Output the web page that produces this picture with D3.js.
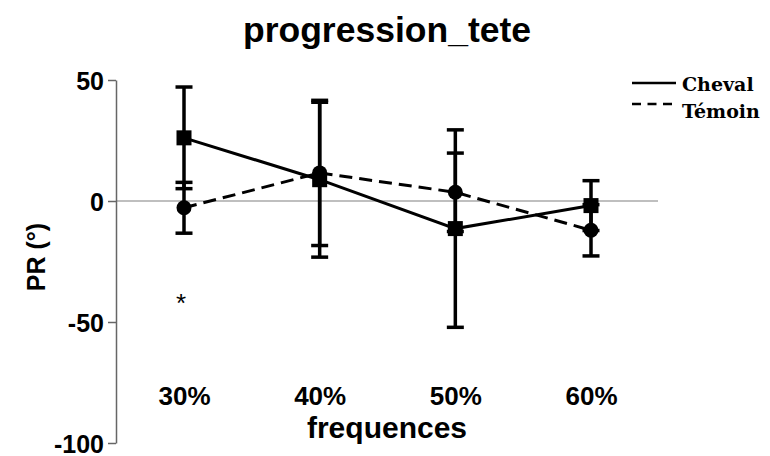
<!DOCTYPE html>
<html><head><meta charset="utf-8">
<script src="https://cdn.jsdelivr.net/npm/d3@7"></script>
<style>body{margin:0;background:#fff}svg{display:block}</style>
</head><body>
<svg id="c" width="770" height="456"></svg>
<script>
const categories = ["30%", "40%", "50%", "60%"];
const chevalMean = [26.1, 8.8, -11.4, -1.9];
const chevalErr  = [21.0, 32.0, 40.8, 10.3];
const temoinMean = [-2.8, 11.6, 3.6, -12.1];
const temoinErr  = [10.5, 30.0, 16.2, 10.6];
const yTicks = [-100, -50, 0, 50];
const seriesNames = ["Cheval", "Témoin"];

const svg = d3.select("#c");
const x = d3.scalePoint().domain(categories).range([184, 591]);
const y = d3.scaleLinear().domain([-100, 50]).range([443, 80]);
const font = "'Liberation Sans', Arial, sans-serif";

// zero line
svg.append("line").attr("x1", 116).attr("x2", 658).attr("y1", y(0)).attr("y2", y(0))
  .attr("stroke", "#808080").attr("stroke-width", 1.2);

// y axis
const ya = svg.append("g").attr("transform", "translate(116,0)")
  .call(d3.axisLeft(y).tickValues(yTicks).tickFormat(d => String(d))
    .tickSize(8).tickPadding(4).tickSizeOuter(0));
ya.select(".domain").attr("stroke", "#666").attr("stroke-width", 1.5);
ya.selectAll(".tick line").attr("stroke", "#666").attr("stroke-width", 1.5);
ya.selectAll(".tick text").attr("font-family", font).attr("font-weight", "bold")
  .attr("font-size", 25).attr("fill", "#000").attr("dy", "0.36em");

// x axis labels
const xa = svg.append("g").attr("transform", "translate(0,405)")
  .call(d3.axisBottom(x).tickSize(0).tickPadding(0));
xa.select(".domain").remove();
xa.selectAll(".tick text").attr("font-family", font).attr("font-weight", "bold")
  .attr("font-size", 26).attr("fill", "#000").attr("dy", 0);

// titles
svg.append("text").attr("x", 387).attr("y", 42).attr("text-anchor", "middle")
  .attr("font-family", font).attr("font-weight", "bold").attr("font-size", 35.5).text("progression_tete");
svg.append("text").attr("x", 387).attr("y", 438).attr("text-anchor", "middle")
  .attr("font-family", font).attr("font-weight", "bold").attr("font-size", 30).text("frequences");
svg.append("text").attr("transform", "translate(45,257) rotate(-90)").attr("text-anchor", "middle")
  .attr("font-family", font).attr("font-weight", "bold").attr("font-size", 25).text("PR (°)");

// asterisk
svg.append("text").attr("x", x("30%") - 3).attr("y", 312).attr("text-anchor", "middle")
  .attr("font-family", font).attr("font-size", 26).text("*");

function drawSeries(mean, err, dashed, shape) {
  const data = categories.map((c, i) => ({c, m: mean[i], e: err[i]}));
  const g = svg.append("g");
  data.forEach(d => {
    const cx = x(d.c);
    g.append("line").attr("x1", cx).attr("x2", cx).attr("y1", y(d.m + d.e)).attr("y2", y(d.m - d.e))
      .attr("stroke", "#000").attr("stroke-width", 3.5);
    [d.m + d.e, d.m - d.e].forEach(v => {
      g.append("line").attr("x1", cx - 8.5).attr("x2", cx + 8.5).attr("y1", y(v)).attr("y2", y(v))
        .attr("stroke", "#000").attr("stroke-width", 3.5);
    });
  });
  g.append("path").datum(data)
    .attr("d", d3.line().x(d => x(d.c)).y(d => y(d.m)))
    .attr("fill", "none").attr("stroke", "#000").attr("stroke-width", 3)
    .attr("stroke-dasharray", dashed ? "13,7" : null);
  data.forEach(d => {
    if (shape === "square") {
      g.append("rect").attr("x", x(d.c) - 7.5).attr("y", y(d.m) - 7.5).attr("width", 15).attr("height", 15).attr("fill", "#000");
    } else {
      g.append("circle").attr("cx", x(d.c)).attr("cy", y(d.m)).attr("r", 7.5).attr("fill", "#000");
    }
  });
}
drawSeries(temoinMean, temoinErr, true, "circle");
drawSeries(chevalMean, chevalErr, false, "square");

// legend
const lg = svg.append("g");
const legLineY = [83, 104];
const legTextY = [91, 118];
seriesNames.forEach((n, i) => {
  lg.append("line").attr("x1", 632).attr("x2", 676).attr("y1", legLineY[i]).attr("y2", legLineY[i])
    .attr("stroke", "#000").attr("stroke-width", 2.5).attr("stroke-dasharray", i ? "9,6.5" : null);
  lg.append("text").attr("x", 682).attr("y", legTextY[i]).attr("font-family", "'DejaVu Serif', serif")
    .attr("font-weight", "bold").attr("font-size", 19).text(n);
});
</script>
</body></html>
